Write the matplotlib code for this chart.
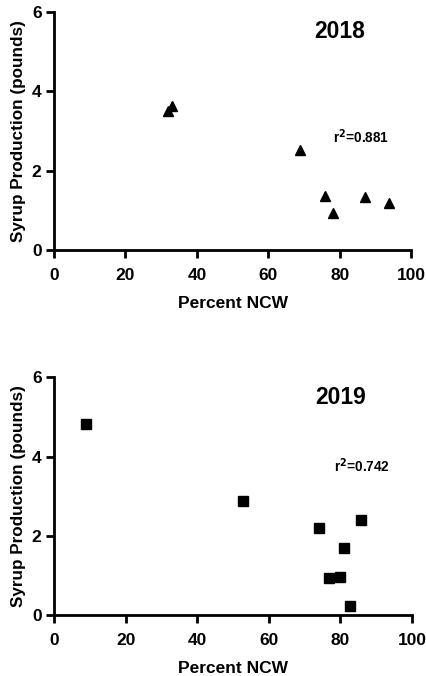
import matplotlib.pyplot as plt

# 2018 data (triangles)
ncw_2018 = [31.8, 33.0, 68.9, 75.9, 78.0, 87.0, 93.8]
syrup_2018 = [3.51, 3.63, 2.52, 1.36, 0.94, 1.34, 1.19]

# 2019 data (squares)
ncw_2019 = [8.9, 52.9, 73.9, 85.9, 80.9, 76.8, 79.8, 82.8]
syrup_2019 = [4.83, 2.87, 2.19, 2.41, 1.70, 0.93, 0.97, 0.22]

plt.rcParams['font.family'] = ['Liberation Sans', 'DejaVu Sans']
plt.rcParams['font.weight'] = 'bold'

fig = plt.figure(figsize=(4.26, 6.76), dpi=100)
ax1 = fig.add_axes([0.127, 0.630, 0.838, 0.352])
ax2 = fig.add_axes([0.127, 0.090, 0.840, 0.352])


def style(ax, year, r2, r2_y):
    ax.set_xlim(0, 100)
    ax.set_ylim(0, 6)
    ax.set_xticks([0, 20, 40, 60, 80, 100])
    ax.set_yticks([0, 2, 4, 6])
    for s in ['top', 'right']:
        ax.spines[s].set_visible(False)
    for s in ['left', 'bottom']:
        ax.spines[s].set_linewidth(2)
    ax.tick_params(width=2, length=6, labelsize=12.5, direction='out')
    ax.tick_params(axis='x', pad=7)
    ax.tick_params(axis='y', pad=3)
    for lab in ax.get_xticklabels() + ax.get_yticklabels():
        lab.set_fontweight('bold')
    ax.set_xlabel('Percent NCW', fontsize=12.5, fontweight='bold', labelpad=9)
    ax.set_ylabel('Syrup Production (pounds)', fontsize=12.3, fontweight='bold', labelpad=4)
    ax.text(80, 5.5, year, fontsize=16.5, fontweight='bold', ha='center', va='center')
    ax.text(86, r2_y, r2, fontsize=9.8, fontweight='bold', ha='center', va='center')
    ax.patch.set_alpha(0)


ax1.plot(ncw_2018, syrup_2018, '^', color='black', markersize=7.5, clip_on=False)
style(ax1, '2018', r'r$^\mathbf{2}$=0.881', 2.87)

ax2.plot(ncw_2019, syrup_2019, 's', color='black', markersize=7, clip_on=False)
style(ax2, '2019', r'r$^\mathbf{2}$=0.742', 3.78)

fig.savefig('out.png', dpi=100)
